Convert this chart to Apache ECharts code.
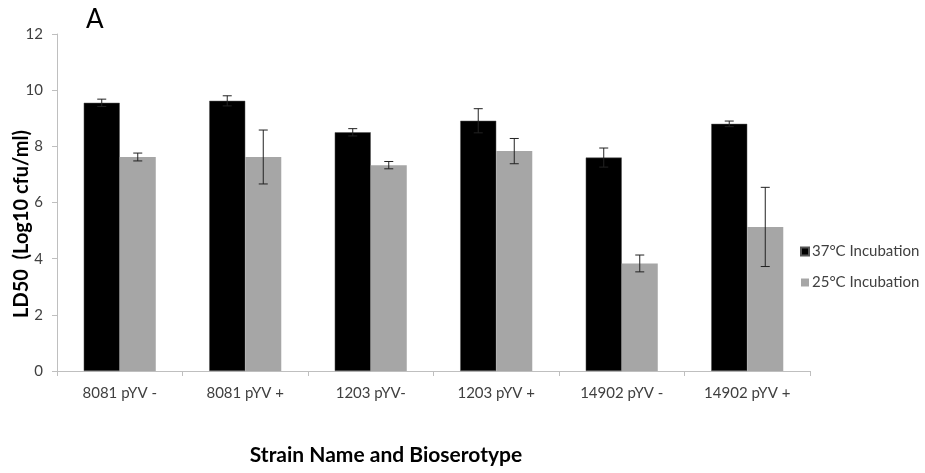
<!DOCTYPE html>
<html><head><meta charset="utf-8">
<script src="https://cdn.jsdelivr.net/npm/echarts@6/dist/echarts.min.js"></script>
<style>html,body{margin:0;padding:0;background:#fff}#c{width:925px;height:473px}</style>
</head><body><div id="c"></div>
<script>
var categories = ['8081 pYV -', '8081 pYV +', '1203 pYV-', '1203 pYV +', '14902 pYV -', '14902 pYV +'];
var seriesNames = ['37°C Incubation', '25°C Incubation'];
var values37 = [9.55, 9.62, 8.50, 8.91, 7.60, 8.80];
var errors37 = [0.13, 0.18, 0.13, 0.43, 0.34, 0.10];
var values25 = [7.62, 7.62, 7.33, 7.83, 3.83, 5.13];
var errors25 = [0.14, 0.96, 0.13, 0.45, 0.30, 1.41];
var yTicks = {min: 0, max: 12, interval: 2};

var FONT = 'Lato';
var BAR_FRAC = 0.287;

function errData(vals, errs) {
  return vals.map(function (v, i) { return [i, v - errs[i], v + errs[i]]; });
}
function errSeries(vals, errs, sign) {
  return {
    type: 'custom', z: 5, silent: true,
    data: errData(vals, errs),
    encode: {x: 0, y: [1, 2]},
    renderItem: function (params, api) {
      var band = api.size([1, 0])[0];
      var off = sign * band * BAR_FRAC / 2;
      var lo = api.coord([api.value(0), api.value(1)]);
      var hi = api.coord([api.value(0), api.value(2)]);
      var x = lo[0] + off, cap = 4.5;
      var st = {stroke: '#222', lineWidth: 1};
      return {type: 'group', children: [
        {type: 'line', shape: {x1: x, y1: lo[1], x2: x, y2: hi[1]}, style: st},
        {type: 'line', shape: {x1: x - cap, y1: hi[1], x2: x + cap, y2: hi[1]}, style: st},
        {type: 'line', shape: {x1: x - cap, y1: lo[1], x2: x + cap, y2: lo[1]}, style: st}
      ]};
    }
  };
}

var chart = echarts.init(document.getElementById('c'));
chart.setOption({
  animation: false,
  textStyle: {fontFamily: FONT},
  grid: {left: 57, right: 115, top: 34, bottom: 102},
  legend: {
    orient: 'vertical', left: 795, top: 239, itemGap: 16,
    icon: 'rect', itemWidth: 8, itemHeight: 8,
    textStyle: {fontFamily: FONT, fontSize: 15, color: '#404040', padding: [0, 0, 0, -2]},
    data: seriesNames
  },
  xAxis: {
    type: 'category', data: categories,
    axisLine: {lineStyle: {color: '#bfbfbf'}},
    axisTick: {show: true, length: 5, lineStyle: {color: '#bfbfbf'}},
    axisLabel: {fontFamily: FONT, fontSize: 15, color: '#404040', margin: 15}
  },
  yAxis: {
    type: 'value', min: yTicks.min, max: yTicks.max, interval: yTicks.interval,
    axisLine: {show: true, lineStyle: {color: '#bfbfbf'}},
    axisTick: {show: true, length: 5, lineStyle: {color: '#bfbfbf'}},
    splitLine: {show: false},
    axisLabel: {fontFamily: FONT, fontSize: 15, color: '#404040', margin: 14}
  },
  series: [
    {name: seriesNames[0], type: 'bar', data: values37, barWidth: '28.7%', barGap: '0%',
     itemStyle: {color: '#000000', borderColor: '#555', borderWidth: 0.5}},
    {name: seriesNames[1], type: 'bar', data: values25, barWidth: '28.7%', barGap: '0%',
     itemStyle: {color: '#a6a6a6'}},
    errSeries(values37, errors37, -1),
    errSeries(values25, errors25, 1)
  ],
  graphic: [
    {type: 'text', left: 86, top: 7, style: {text: 'A', fontFamily: FONT, fontSize: 26, fill: '#000'}},
    {type: 'text', x: 22, y: 224, rotation: Math.PI / 2,
     style: {text: 'LD50  (Log10 cfu/ml)', fontFamily: FONT, fontWeight: 'bold', fontSize: 20, fill: '#000', align: 'center', verticalAlign: 'middle'}},
    {type: 'text', x: 386, y: 455,
     style: {text: 'Strain Name and Bioserotype', fontFamily: FONT, fontWeight: 'bold', fontSize: 21, fill: '#000', align: 'center', verticalAlign: 'middle'}}
  ]
});
</script></body></html>
